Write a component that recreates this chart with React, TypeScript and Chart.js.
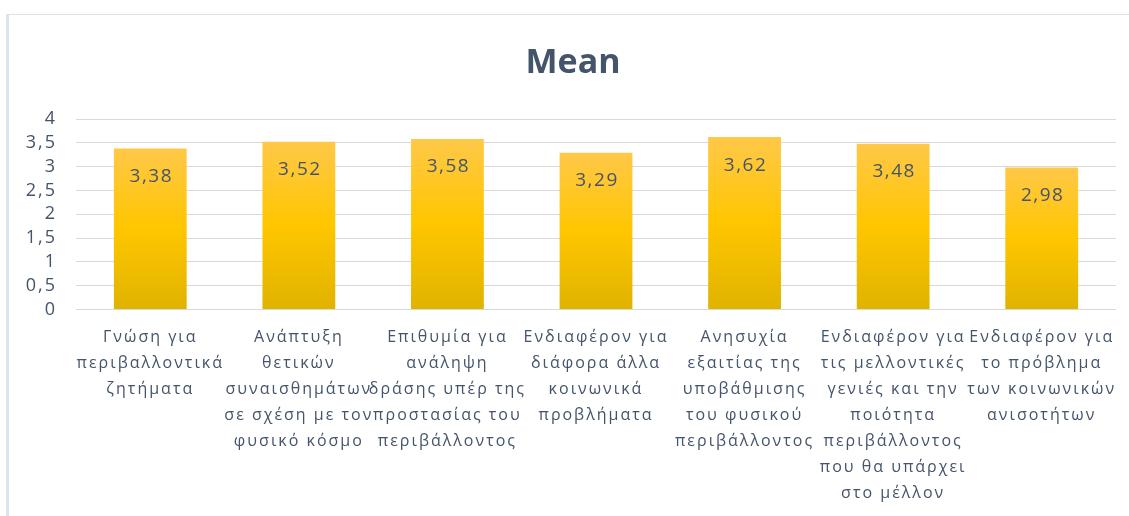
import React, { useEffect, useRef } from "react";
import { Chart, registerables } from "chart.js";

Chart.register(...registerables);

const chartTitle = "Mean";
const categories: string[][] = [
  ["Γνώση για", "περιβαλλοντικά", "ζητήματα"],
  ["Ανάπτυξη", "θετικών", "συναισθημάτων", "σε σχέση με τον", "φυσικό κόσμο"],
  ["Επιθυμία για", "ανάληψη", "δράσης υπέρ της", "προστασίας του", "περιβάλλοντος"],
  ["Ενδιαφέρον για", "διάφορα άλλα", "κοινωνικά", "προβλήματα"],
  ["Ανησυχία", "εξαιτίας της", "υποβάθμισης", "του φυσικού", "περιβάλλοντος"],
  ["Ενδιαφέρον για", "τις μελλοντικές", "γενιές και την", "ποιότητα", "περιβάλλοντος", "που θα υπάρχει", "στο μέλλον"],
  ["Ενδιαφέρον για", "το πρόβλημα", "των κοινωνικών", "ανισοτήτων"],
];
const meanValues = [3.38, 3.52, 3.58, 3.29, 3.62, 3.48, 2.98];
const yTickMin = 0;
const yTickMax = 4;
const yTickStep = 0.5;

const TEXT = "#44546A";
const FONT = "'Open Sans', 'Noto Sans', sans-serif";

const fmt = (v: number) => String(v).replace(".", ",");

const spacingPlugin = {
  id: "letterSpacing",
  beforeDraw(chart: any) {
    chart.ctx.letterSpacing = "2px";
  },
  afterDraw(chart: any) {
    chart.ctx.letterSpacing = "0px";
  },
};

const titlePlugin = {
  id: "customTitle",
  afterDraw(chart: any) {
    const ctx = chart.ctx;
    ctx.save();
    ctx.letterSpacing = "0px";
    ctx.font = `bold 34px ${FONT}`;
    ctx.fillStyle = TEXT;
    ctx.textAlign = "center";
    ctx.textBaseline = "middle";
    ctx.fillText(chartTitle, 573, 63);
    ctx.restore();
  },
};

const valueLabelPlugin = {
  id: "valueLabels",
  afterDatasetsDraw(chart: any) {
    const ctx = chart.ctx;
    const meta = chart.getDatasetMeta(0);
    ctx.save();
    ctx.letterSpacing = "1.5px";
    ctx.font = `19px ${FONT}`;
    ctx.fillStyle = TEXT;
    ctx.textAlign = "center";
    ctx.textBaseline = "middle";
    meta.data.forEach((bar: any, i: number) => {
      ctx.fillText(fmt(meanValues[i]), bar.x + 1, bar.y + 28);
    });
    ctx.restore();
  },
};

export default function App() {
  const ref = useRef<HTMLCanvasElement>(null);

  useEffect(() => {
    if (!ref.current) return;
    const chart = new Chart(ref.current, {
      type: "bar",
      data: {
        labels: categories,
        datasets: [
          {
            label: chartTitle,
            data: meanValues,
            backgroundColor: (context: any) => {
              const c = context.chart;
              const area = c.chartArea;
              if (!area) return "#FFC800";
              const yScale = c.scales.y;
              const v = meanValues[context.dataIndex] ?? 3.5;
              const top = yScale.getPixelForValue(v);
              const bottom = yScale.getPixelForValue(0);
              const g = c.ctx.createLinearGradient(0, top, 0, bottom);
              g.addColorStop(0, "#FFC848");
              g.addColorStop(0.5, "#FFC600");
              g.addColorStop(1, "#E0B300");
              return g;
            },
            borderWidth: 0,
            categoryPercentage: 1,
            barPercentage: 0.49,
          },
        ],
      },
      options: {
        animation: false,
        responsive: false,
        maintainAspectRatio: false,
        layout: { padding: { top: 119, right: 13, bottom: 0, left: 0 } },
        plugins: {
          legend: { display: false },
          title: { display: false },
          tooltip: { enabled: false },
        },
        scales: {
          x: {
            grid: { display: false, drawTicks: false },
            border: { display: false },
            ticks: {
              color: TEXT,
              font: { family: FONT, size: 16, lineHeight: 1.625 },
              padding: 15,
              maxRotation: 0,
              autoSkip: false,
            },
            afterFit: (scale: any) => {
              scale.height = 206.5;
            },
          },
          y: {
            min: yTickMin,
            max: yTickMax,
            grid: { color: "#D9D9D9", lineWidth: 1, drawTicks: false },
            border: { display: false },
            ticks: {
              stepSize: yTickStep,
              autoSkip: false,
              color: TEXT,
              font: { family: FONT, size: 18, lineHeight: 1 },
              padding: 19,
              callback: (v: any) => fmt(Number(v)),
            },
            afterFit: (scale: any) => {
              scale.width = 76;
            },
          },
        },
      },
      plugins: [spacingPlugin, titlePlugin, valueLabelPlugin],
    });
    return () => chart.destroy();
  }, []);

  return (
    <div style={{ position: "absolute", left: 0, top: 0, width: 1129, height: 516, background: "#fff", overflow: "hidden" }}>
      <div
        style={{
          position: "absolute",
          left: 6,
          top: 14,
          width: 1130,
          height: 510,
          borderTop: "1px solid #DEE3EA",
          borderLeft: "3px solid #DEE3EA",
        }}
      />
      <canvas ref={ref} width={1129} height={516} style={{ position: "absolute", left: 0, top: 0 }} />
    </div>
  );
}
